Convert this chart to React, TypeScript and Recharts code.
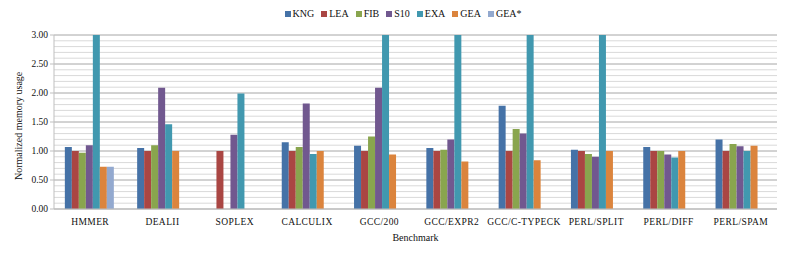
import React from 'react';
import { BarChart, Bar, XAxis, YAxis, CartesianGrid } from 'recharts';

const benchmarks = ['HMMER', 'DEALII', 'SOPLEX', 'CALCULIX', 'GCC/200', 'GCC/EXPR2', 'GCC/C-TYPECK', 'PERL/SPLIT', 'PERL/DIFF', 'PERL/SPAM'];
const kng = [1.07, 1.05, null, 1.15, 1.09, 1.05, 1.78, 1.02, 1.07, 1.2];
const lea = [1.0, 1.0, 1.0, 1.0, 1.0, 1.0, 1.0, 1.0, 1.0, 1.0];
const fib = [0.97, 1.1, null, 1.07, 1.25, 1.02, 1.38, 0.95, 1.0, 1.12];
const s10 = [1.1, 2.09, 1.28, 1.82, 2.09, 1.2, 1.3, 0.9, 0.94, 1.08];
const exa = [3.0, 1.46, 1.99, 0.95, 3.0, 3.0, 3.0, 3.0, 0.89, 1.0];
const gea = [0.73, 1.0, null, 1.0, 0.94, 0.82, 0.84, 1.0, 1.0, 1.09];
const geaStar = [0.73, null, null, null, null, null, null, null, null, null];

const yTicks = [0, 0.5, 1, 1.5, 2, 2.5, 3];
const minorGrid = [0.1, 0.2, 0.3, 0.4, 0.6, 0.7, 0.8, 0.9, 1.1, 1.2, 1.3, 1.4, 1.6, 1.7, 1.8, 1.9, 2.1, 2.2, 2.3, 2.4, 2.6, 2.7, 2.8, 2.9];
const Y_MAX = 3;

const series = [
  { key: 'KNG', values: kng, color: '#4572A7' },
  { key: 'LEA', values: lea, color: '#AA4643' },
  { key: 'FIB', values: fib, color: '#89A54E' },
  { key: 'S10', values: s10, color: '#71588F' },
  { key: 'EXA', values: exa, color: '#4198AF' },
  { key: 'GEA', values: gea, color: '#DB843D' },
  { key: 'GEA*', values: geaStar, color: '#93A9CF' },
];

const data = benchmarks.map((name, i) => {
  const row: any = { name };
  series.forEach((s) => {
    row[s.key] = s.values[i];
  });
  return row;
});

const FONT = '"Liberation Serif", serif';

// minor grid rows, through the axis scale when it is there
const minorRows = ({ yAxis, offset }: any) => {
  const s = yAxis && yAxis.scale;
  if (typeof s === 'function') return minorGrid.map((v) => s(v));
  if (s && typeof s.map === 'function') return minorGrid.map((v) => s.map(v));
  return minorGrid.map((v) => offset.top + offset.height * (1 - v / Y_MAX));
};

const App: React.FC = () => {
  return (
    <div style={{ position: 'absolute', left: 0, top: 0, width: 789, height: 255, background: '#fff', fontFamily: FONT }}>
      <div style={{ position: 'absolute', top: 8, left: 0, width: 789, display: 'flex', justifyContent: 'center', paddingLeft: 24, boxSizing: 'border-box', fontSize: 10, color: '#111', lineHeight: '12px' }}>
        {series.map((s) => (
          <span key={s.key} style={{ display: 'inline-flex', alignItems: 'center', marginRight: 7 }}>
            <span style={{ width: 6, height: 6, background: s.color, marginRight: 2, display: 'inline-block' }} />
            {s.key}
          </span>
        ))}
      </div>
      <BarChart
        width={789}
        height={255}
        data={data}
        margin={{ top: 35, right: 12, bottom: 16, left: 0 }}
        barCategoryGap="15%"
        barGap={0}
      >
        <CartesianGrid vertical={false} stroke="#d9d9d9" horizontalCoordinatesGenerator={minorRows} />
        <CartesianGrid vertical={false} stroke="#a6a6a6" />
        <XAxis
          dataKey="name"
          height={30}
          tickLine={false}
          axisLine={{ stroke: '#bfbfbf' }}
          tick={{ fontFamily: FONT, fontSize: 9.5, fill: '#111', letterSpacing: 0.4 }}
          tickMargin={3}
          interval={0}
          label={{ value: 'Benchmark', position: 'insideBottom', offset: 0, dy: 2, fontFamily: FONT, fontSize: 10, fill: '#111' }}
        />
        <YAxis
          width={54}
          domain={[0, Y_MAX]}
          ticks={yTicks}
          tickFormatter={(v: number) => v.toFixed(2)}
          axisLine={{ stroke: '#bfbfbf' }}
          tickLine={{ stroke: '#bfbfbf' }}
          tickSize={4}
          tick={{ fontFamily: FONT, fontSize: 9.5, fill: '#111' }}
          allowDataOverflow
          label={{ value: 'Normalized memory usage', angle: -90, position: 'insideLeft', offset: 18, dy: 58, fontFamily: FONT, fontSize: 10, fill: '#111' }}
        />
        {series.map((s) => (
          <Bar key={s.key} dataKey={s.key} fill={s.color} isAnimationActive={false} />
        ))}
      </BarChart>
    </div>
  );
};

export default App;
